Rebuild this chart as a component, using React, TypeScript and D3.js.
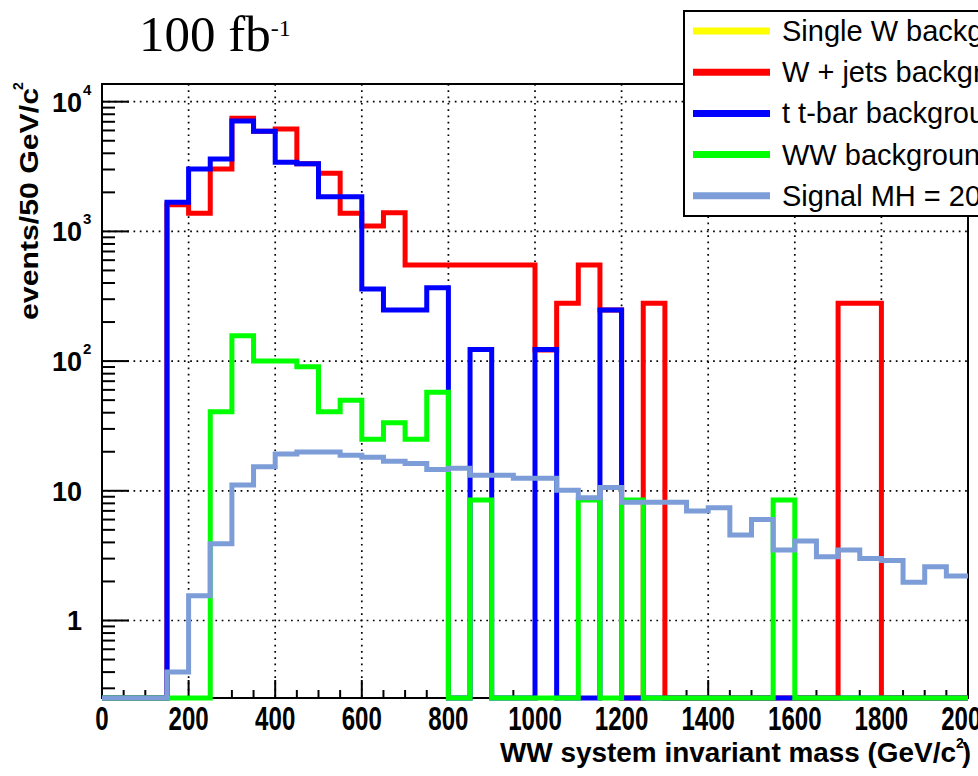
import * as d3 from "d3";

// 40 bins of 50 GeV/c^2, from 0 to 2000
const BIN_WIDTH = 50;
const X_MAX = 2000;

const singleW = [0, 0, 0, 0, 0, 0, 0, 0, 0, 0, 0, 0, 0, 0, 0, 0, 0, 0, 0, 0,
  0, 0, 0, 0, 0, 0, 0, 0, 0, 0, 0, 0, 0, 0, 0, 0, 0, 0, 0, 0];
const wJets = [0, 0, 0, 1607, 1377, 3030, 7450, 5910, 6150, 3330, 2805, 1377, 1101, 1393, 551, 551, 551, 551, 551, 551,
  122, 279, 551, 248, 0, 279, 0, 0, 0, 0, 0, 0, 0, 0, 279, 279, 0, 0, 0, 0];
const ttbar = [0, 0, 0, 1675, 3030, 3610, 7100, 5910, 3410, 3330, 1850, 1850, 360, 248, 248, 368, 0, 123, 0, 0,
  123, 0, 0, 248, 0, 0, 0, 0, 0, 0, 0, 0, 0, 0, 0, 0, 0, 0, 0, 0];
const wwBkg = [0, 0, 0, 0, 0, 40.7, 157, 100, 100, 90.6, 40.7, 50, 25, 33.5, 25, 57.5, 0, 8.5, 0, 0,
  0, 0, 8.5, 0, 8.5, 0, 0, 0, 0, 0, 0, 8.5, 0, 0, 0, 0, 0, 0, 0, 0];
const signal = [0, 0, 0, 0.4, 1.55, 3.9, 11.1, 15.3, 19.2, 19.9, 19.9, 18.8, 18.1, 16.9, 16.2, 14.6, 14.9, 13.2, 13.2, 12.5,
  12.5, 10.1, 8.85, 10.6, 8.15, 8.15, 8.15, 7.0, 7.4, 4.56, 6.0, 3.5, 4.1, 3.1, 3.5, 3.0, 2.9, 1.97, 2.6, 2.2];

const legendLabels = [
  "Single W background",
  "W + jets background",
  "t t-bar background",
  "WW background",
  "Signal MH = 200 GeV",
];
const xTickLabels = ["0", "200", "400", "600", "800", "1000", "1200", "1400", "1600", "1800", "2000"];
const yDecades = [0, 1, 2, 3, 4];

const Y_MIN = 0.2526;
const Y_MAX = 13690;

const COLORS = ["#ffff00", "#ff0000", "#0000ff", "#00ff00", "#7d9dd8"];
const SERIES = [singleW, wJets, ttbar, wwBkg, signal];

const FRAME = { left: 102, right: 968, top: 84, bottom: 698 };
const AXIS_FONT = "'Liberation Sans', Arial, Helvetica, sans-serif";

export default function App() {
  const x = d3.scaleLinear().domain([0, X_MAX]).range([FRAME.left, FRAME.right]);
  const y = d3.scaleLog().domain([Y_MIN, Y_MAX]).range([FRAME.bottom, FRAME.top]);

  const line = d3.line<[number, number]>();

  function histPath(values: number[]) {
    // an empty histogram is not drawn on a log axis
    if (d3.max(values) === 0) return "";
    const pts: [number, number][] = [];
    values.forEach((v, i) => {
      const yy = y(Math.max(v, Y_MIN));
      pts.push([x(i * BIN_WIDTH), yy], [x((i + 1) * BIN_WIDTH), yy]);
    });
    return line(pts) || "";
  }

  const xMajor = d3.range(0, X_MAX + 1, 200);
  const xMinor = d3.range(0, X_MAX + 1, BIN_WIDTH).filter((v) => v % 200 !== 0);

  const yMinor: number[] = [];
  for (let d = -1; d <= 4; d++) {
    for (let m = 2; m <= 9; m++) {
      const v = m * Math.pow(10, d);
      if (v > Y_MIN && v < Y_MAX) yMinor.push(v);
    }
  }

  return (
    <svg
      width={978}
      height={776}
      style={{ position: "absolute", left: 0, top: 0, background: "#fff" }}
    >
      <rect x={0} y={0} width={978} height={776} fill="#fff" />

      {/* title */}
      <text x={139} y={51} fontFamily="'Liberation Serif', 'Times New Roman', serif" fontSize={51}>
        100 fb
        <tspan fontSize={24} dy={-15}>-1</tspan>
      </text>

      {/* grid */}
      <g stroke="#000" strokeWidth={1.7} strokeDasharray="1.7 4.6" fill="none">
        {xMajor.slice(1, -1).map((v) => (
          <line key={"gx" + v} x1={x(v)} x2={x(v)} y1={FRAME.top} y2={FRAME.bottom} />
        ))}
        {yDecades.map((d) => (
          <line key={"gy" + d} x1={FRAME.left} x2={FRAME.right} y1={y(Math.pow(10, d))} y2={y(Math.pow(10, d))} />
        ))}
      </g>

      {/* frame and ticks */}
      <rect
        x={FRAME.left}
        y={FRAME.top}
        width={FRAME.right - FRAME.left}
        height={FRAME.bottom - FRAME.top}
        fill="none"
        stroke="#000"
        strokeWidth={2}
      />
      <g stroke="#000" strokeWidth={2}>
        {xMajor.map((v) => (
          <line key={"xM" + v} x1={x(v)} x2={x(v)} y1={FRAME.bottom} y2={FRAME.bottom - 18} />
        ))}
        {xMinor.map((v) => (
          <line key={"xm" + v} x1={x(v)} x2={x(v)} y1={FRAME.bottom} y2={FRAME.bottom - 8} />
        ))}
        {yDecades.map((d) => (
          <line key={"yM" + d} x1={FRAME.left} x2={FRAME.left + 27} y1={y(Math.pow(10, d))} y2={y(Math.pow(10, d))} />
        ))}
        {yMinor.map((v) => (
          <line key={"ym" + v} x1={FRAME.left} x2={FRAME.left + 13} y1={y(v)} y2={y(v)} />
        ))}
      </g>

      {/* x tick labels */}
      <g fontFamily={AXIS_FONT} fontWeight="bold" fontSize={33} textAnchor="middle">
        {xMajor.map((v, i) => (
          <text key={"xl" + v} transform={`translate(${x(v)},730) scale(0.73,1)`}>
            {xTickLabels[i]}
          </text>
        ))}
      </g>

      {/* y tick labels */}
      <g fontFamily={AXIS_FONT} fontWeight="bold">
        {yDecades.map((d) => {
          const yy = y(Math.pow(10, d));
          if (d < 2) {
            return (
              <text key={"yl" + d} x={82} y={yy + 10} fontSize={27} textAnchor="end">
                {Math.pow(10, d)}
              </text>
            );
          }
          return (
            <g key={"yl" + d}>
              <text x={82} y={yy + 10} fontSize={27} textAnchor="end">10</text>
              <text x={83} y={yy - 7} fontSize={15}>{d}</text>
            </g>
          );
        })}
      </g>

      {/* axis titles */}
      <g fontFamily={AXIS_FONT} fontWeight="bold">
        <g transform="translate(38,320) rotate(-90)">
          <text x={0} y={0} fontSize={26} textLength={232} lengthAdjust="spacingAndGlyphs">
            events/50 GeV/c
          </text>
          <text x={230} y={-15} fontSize={14}>2</text>
        </g>
        <text x={500} y={762} fontSize={28} textLength={456} lengthAdjust="spacingAndGlyphs">
          WW system invariant mass (GeV/c
        </text>
        <text x={956} y={748} fontSize={14}>2</text>
        <text x={962} y={762} fontSize={28} textLength={9} lengthAdjust="spacingAndGlyphs">)</text>
      </g>

      {/* histograms */}
      <g fill="none" strokeWidth={5} strokeLinejoin="miter">
        {SERIES.map((vals, i) => (
          <path key={"h" + i} d={histPath(vals)} stroke={COLORS[i]} />
        ))}
      </g>

      {/* legend */}
      <g>
        <rect x={684} y={11} width={330} height={205} fill="#fff" stroke="#000" strokeWidth={2} />
        {legendLabels.map((label, i) => {
          const ly = 31 + i * 41.2;
          return (
            <g key={"lg" + i}>
              <line x1={693} x2={770} y1={ly} y2={ly} stroke={COLORS[i]} strokeWidth={7} />
              <text x={782} y={ly + 10} fontFamily={AXIS_FONT} fontSize={29}>
                {label}
              </text>
            </g>
          );
        })}
      </g>
    </svg>
  );
}
